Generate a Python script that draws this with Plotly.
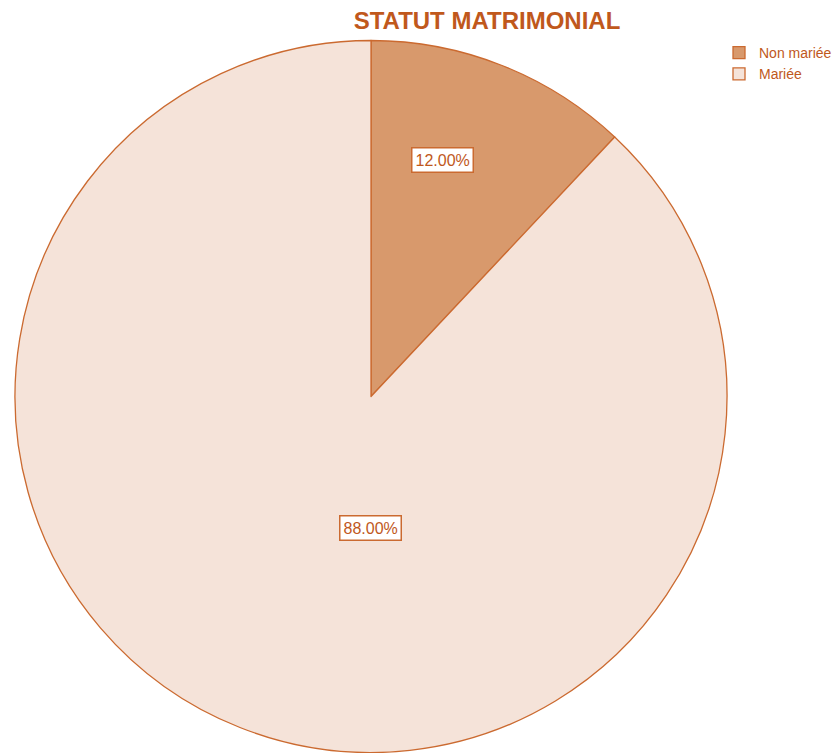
import plotly.graph_objects as go

# Marital status breakdown
categories = ["Non mariée", "Mariée"]
shares = [12.00, 88.00]

slice_colors = ["#D8996C", "#F5E3D9"]
edge_color = "#CB6A30"
text_color = "#C0581C"

W, H = 836, 753
cx, cy, r = 371, 396.5, 356

fig = go.Figure(
    go.Pie(
        labels=categories,
        values=shares,
        sort=False,
        direction="clockwise",
        rotation=0,
        textinfo="none",
        hoverinfo="label+percent",
        marker=dict(colors=slice_colors, line=dict(color=edge_color, width=1.3)),
        domain=dict(
            x=[(cx - r) / W, (cx + r) / W],
            y=[(H - cy - r) / H, (H - cy + r) / H],
        ),
    )
)

# Percentage labels in white boxes
label_pos = [(443, 160), (370, 528)]
for (px, py), v in zip(label_pos, shares):
    fig.add_annotation(
        x=px / W, y=1 - py / H, xref="paper", yref="paper",
        xanchor="center", yanchor="middle",
        text=f"{v:.2f}%", showarrow=False,
        font=dict(family="Liberation Sans, Arial, sans-serif", size=16, color=text_color),
        bgcolor="white", bordercolor=edge_color, borderwidth=1.5, borderpad=3,
    )

fig.update_layout(
    width=W, height=H,
    margin=dict(l=0, r=0, t=0, b=0, autoexpand=False),
    paper_bgcolor="white",
    title=dict(
        text="<b>STATUT MATRIMONIAL</b>",
        x=487 / W, xanchor="center", y=1 - 21 / H, yanchor="middle",
        font=dict(family="Liberation Sans, Arial, sans-serif", size=24, color=text_color),
    ),
    legend=dict(
        x=719 / W, y=1 - 37 / H, xanchor="left", yanchor="top",
        font=dict(family="Liberation Sans, Arial, sans-serif", size=14, color=text_color),
        bgcolor="rgba(0,0,0,0)", itemwidth=30, tracegroupgap=0,
    ),
)

fig.write_html("out.html")
